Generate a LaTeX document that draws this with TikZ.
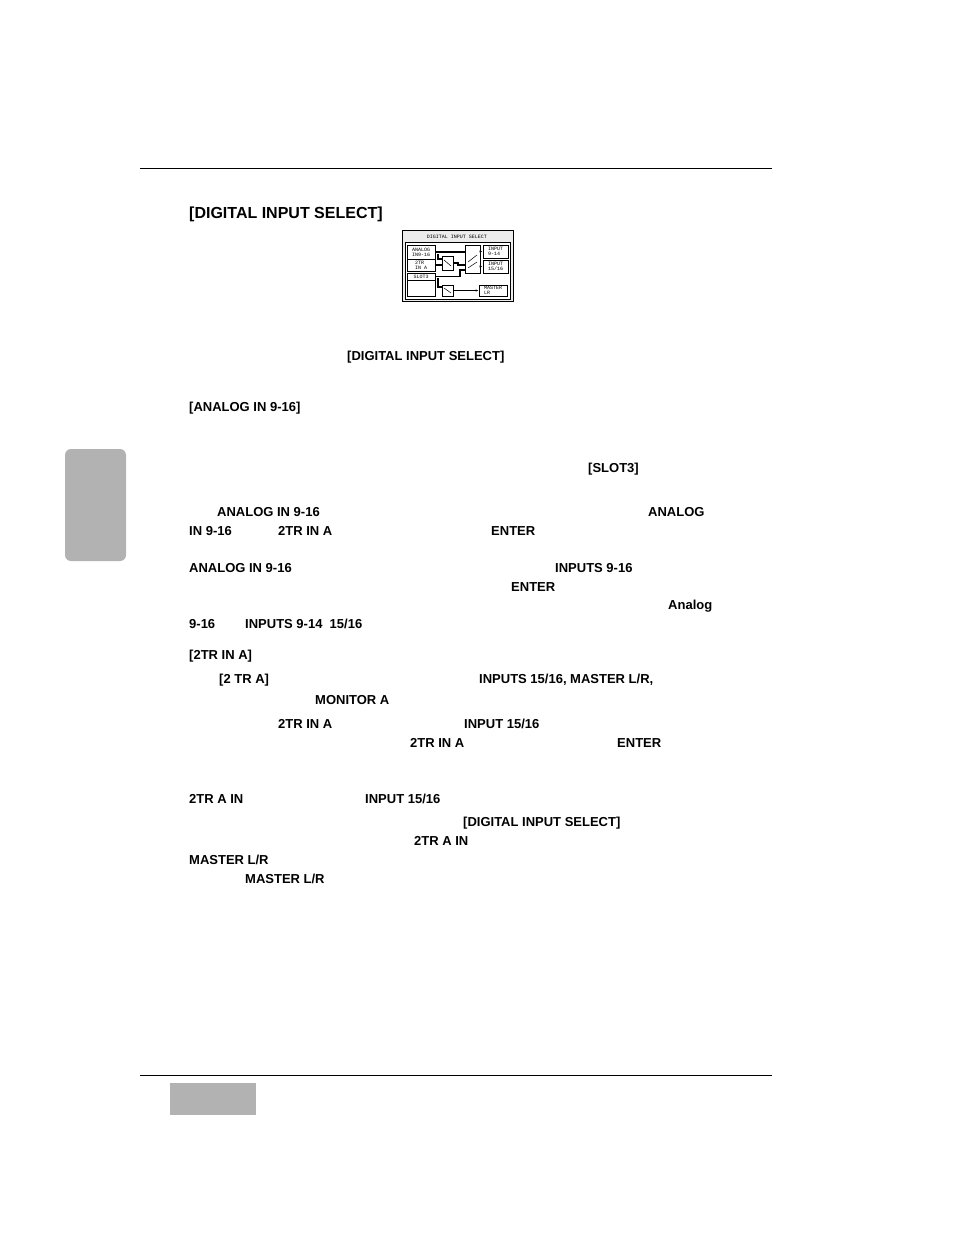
\documentclass[tikz,border=0pt]{standalone}
\usepackage{fontspec}
\setmainfont{Liberation Sans}
\newfontfamily\lcdfont{Liberation Mono}
\usetikzlibrary{arrows.meta}
\tikzset{
  txt/.style={anchor=west,inner sep=0pt,font=\fontsize{13}{15}\selectfont\bfseries},
  lcdbox/.style={draw,line width=0.8pt,inner sep=0pt},
  lcdtxt/.style={font=\lcdfont\fontsize{5}{5}\selectfont,inner sep=0pt,align=left},
  wire/.style={line width=1.2pt},
}
\begin{document}
\begin{tikzpicture}[x=1pt,y=-1pt]
\useasboundingbox (0,0) rectangle (954,1235);
% rules and tabs
\draw[line width=0.8pt] (140,168) -- (772,168);
\draw[line width=0.8pt] (140,1075) -- (772,1075);
\fill[gray!60,rounded corners=6pt] (65,449) rectangle (126,561);
\fill[gray!60] (170,1083) rectangle (256,1115);
% heading
\node[txt,font=\fontsize{16}{18}\selectfont\bfseries] (head) at (189,214) {[DIGITAL INPUT SELECT]};
% screen
\draw[lcdbox,fill=gray!15] (402,230) rectangle (513,301);
\draw[lcdbox,fill=white] (405,242) rectangle (510,299);
\node[lcdtxt] (title) at (457,237) {DIGITAL INPUT SELECT};
\node[lcdbox,minimum width=28pt,minimum height=14pt] (ain) at (421,252) {};
\node[lcdtxt] at (421,252) {ANALOG\\IN9-16};
\node[lcdbox,minimum width=28pt,minimum height=12pt] (tr) at (421,265) {};
\node[lcdtxt] at (421,265) {2TR\\IN A};
\node[lcdbox,minimum width=28pt,minimum height=7pt] (slot) at (421,276.5) {};
\node[lcdtxt] at (421,276.5) {SLOT3};
\draw[line width=0.6pt] (407,280) -- (407,296) -- (435,296) -- (435,280);
\node[lcdbox,minimum width=11pt,minimum height=14pt] (sw1) at (447.5,263) {};
\node[lcdbox,minimum width=15pt,minimum height=28pt] (sw2) at (472.5,259) {};
\node[lcdbox,minimum width=11pt,minimum height=11pt] (sw3) at (447.5,290.5) {};
\node[lcdbox,minimum width=25pt,minimum height=13pt] (in914) at (495.5,251.5) {};
\node[lcdtxt] at (495.5,251.5) {INPUT\\9-14};
\node[lcdbox,minimum width=25pt,minimum height=13pt] (in1516) at (495.5,266.5) {};
\node[lcdtxt] at (495.5,266.5) {INPUT\\15/16};
\node[lcdbox,minimum width=28pt,minimum height=11pt] (mst) at (493,290.5) {};
\node[lcdtxt] at (493,290.5) {MASTER\\LR};
\draw[wire] (ain.east) -- (sw2.west |- ain.east);
\draw[wire] (438,254) -- (438,259) -- (sw1.west |- 0,259);
\draw[wire] (tr.east) -- (sw1.west |- tr.east);
\draw[wire] (sw1.east) -- (458,263) -- (458,265) -- (sw2.west |- 0,265);
\draw[wire] (slot.east) -- (460,276.5) -- (460,270) -- (sw2.west |- 0,270);
\draw[wire] (438,278) -- (438,287) -- (sw3.west |- 0,287);
\draw[wire,-{Latex[length=3pt]}] (sw2.east |- in914.west) -- (in914.west);
\draw[wire,-{Latex[length=3pt]}] (sw2.east |- in1516.west) -- (in1516.west);
\draw[wire,-{Latex[length=3pt]}] (sw3.east) -- (mst.west);
\draw[line width=0.5pt] (444,260) -- (451,266);
\draw[line width=0.5pt] (468,262) -- (477,255);
\draw[line width=0.5pt] (468,268) -- (477,262);
\draw[line width=0.5pt] (444,288) -- (451,293);
% body text
\node[txt] (t1) at (347,357) {[DIGITAL INPUT SELECT]};
\node[txt] (t2) at (189,408) {[ANALOG IN 9-16]};
\node[txt] (t3) at (588,469) {[SLOT3]};
\node[txt] (t4) at (217,512) {ANALOG IN 9-16};
\node[txt] (t5) at (648,512) {ANALOG};
\node[txt] (t6) at (189,531) {IN 9-16};
\node[txt] (t7) at (278,531) {2TR IN A};
\node[txt] (t8) at (491,531) {ENTER};
\node[txt] (t9) at (189,568) {ANALOG IN 9-16};
\node[txt] (t10) at (555,568) {INPUTS 9-16};
\node[txt] (t11) at (511,587) {ENTER};
\node[txt] (t12) at (668,606) {Analog};
\node[txt] (t13) at (189,624) {9-16};
\node[txt] (t14) at (245,624) {INPUTS 9-14\ \ 15/16};
\node[txt] (t15) at (189,656) {[2TR IN A]};
\node[txt] (t16) at (219,680) {[2 TR A]};
\node[txt] (t17) at (479,680) {INPUTS 15/16, MASTER L/R,};
\node[txt] (t18) at (315,700) {MONITOR A};
\node[txt] (t19) at (278,724) {2TR IN A};
\node[txt] (t20) at (464,724) {INPUT 15/16};
\node[txt] (t21) at (410,743) {2TR IN A};
\node[txt] (t22) at (617,743) {ENTER};
\node[txt] (t23) at (189,799) {2TR A IN};
\node[txt] (t24) at (365,799) {INPUT 15/16};
\node[txt] (t25) at (463,823) {[DIGITAL INPUT SELECT]};
\node[txt] (t26) at (414,841) {2TR A IN};
\node[txt] (t27) at (189,860) {MASTER L/R};
\node[txt] (t28) at (245,879) {MASTER L/R};
\end{tikzpicture}
\end{document}
